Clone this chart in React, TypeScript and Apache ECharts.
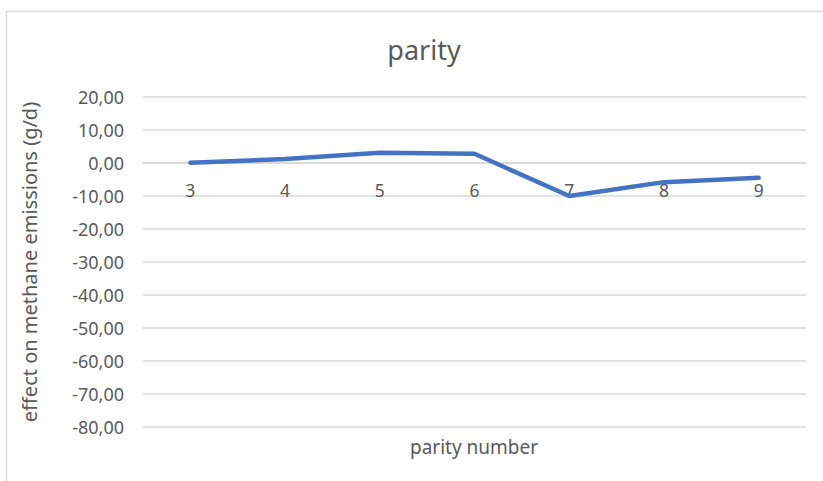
import React, { useEffect, useRef } from "react";
import * as echarts from "echarts";

const categories = ["3", "4", "5", "6", "7", "8", "9"];
const effectValues = [0.1, 1.2, 3.1, 2.8, -10.0, -5.8, -4.5];
const chartTitle = "parity";
const xAxisName = "parity number";
const yAxisName = "effect on methane emissions (g/d)";

const FONT = "'Noto Sans', sans-serif";
const TEXT = "#595959";
const GRID = "#d9d9d9";

export default function App() {
  const ref = useRef<HTMLDivElement>(null);
  useEffect(() => {
    if (!ref.current) return;
    const chart = echarts.init(ref.current, undefined, { renderer: "svg" });
    chart.setOption({
      animation: false,
      backgroundColor: "#ffffff",
      title: {
        text: chartTitle,
        left: 419,
        top: 31,
        textAlign: "center",
        textStyle: { fontFamily: FONT, fontSize: 27, fontWeight: "normal", color: TEXT },
      },
      graphic: [
        {
          type: "rect",
          shape: { x: 6.5, y: 11.5, width: 830, height: 480 },
          style: { fill: "none", stroke: GRID, lineWidth: 1.5 },
          silent: true,
        },
        {
          type: "text",
          x: 474,
          y: 447,
          style: {
            text: xAxisName,
            fontFamily: FONT,
            fontSize: 19,
            fill: TEXT,
            textAlign: "center",
            textVerticalAlign: "middle",
          },
        },
      ],
      grid: { left: 143, right: 17, top: 97, bottom: 54, containLabel: false },
      xAxis: {
        type: "category",
        data: categories,
        boundaryGap: true,
        offset: -264,
        axisLine: { show: true, onZero: false, lineStyle: { color: GRID, width: 1.5 } },
        axisTick: { show: false },
        axisLabel: { margin: 18, fontFamily: FONT, fontSize: 17.5, color: TEXT },
        splitLine: { show: false },
      },
      yAxis: {
        type: "value",
        min: -80,
        max: 20,
        interval: 10,
        name: yAxisName,
        nameLocation: "middle",
        nameGap: 104,
        nameRotate: 90,
        nameTextStyle: { fontFamily: FONT, fontSize: 20, color: TEXT },
        axisLine: { show: false },
        axisTick: { show: false },
        axisLabel: {
          margin: 19,
          fontFamily: FONT,
          fontSize: 18,
          color: TEXT,
          formatter: (v: number) => v.toFixed(2).replace(".", ","),
        },
        splitLine: { show: true, lineStyle: { color: GRID, width: 1.5 } },
      },
      series: [
        {
          type: "line",
          data: effectValues,
          symbol: "none",
          z: 5,
          lineStyle: { color: "#4472C4", width: 4.5, cap: "round", join: "round" },
        },
      ],
    });
    return () => chart.dispose();
  }, []);
  return (
    <div
      ref={ref}
      style={{ position: "fixed", left: 0, top: 0, width: 823, height: 481 }}
    />
  );
}
